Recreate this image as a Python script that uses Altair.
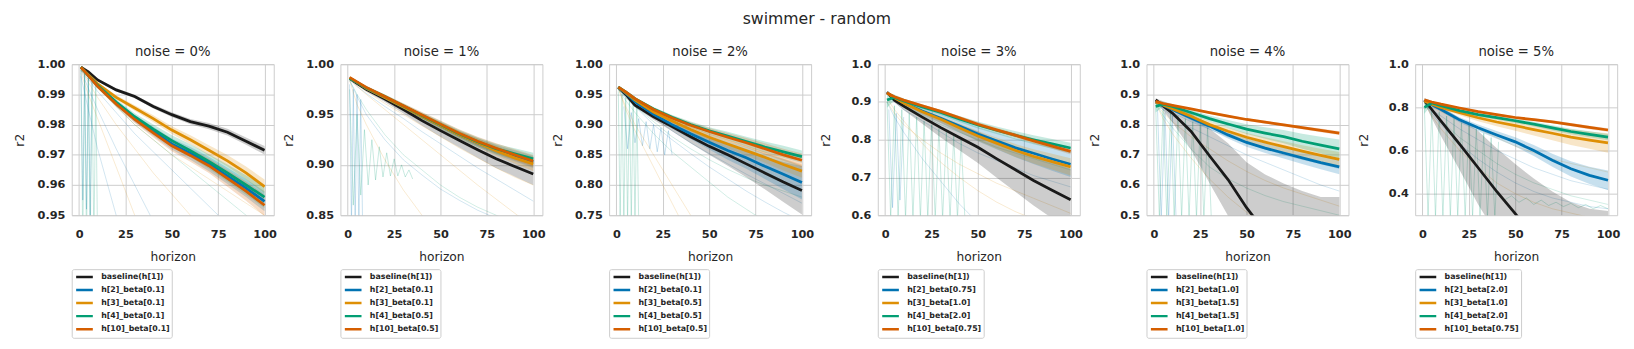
import altair as alt
import pandas as pd

# ---------------- data ----------------
H = [1, 5, 10, 20, 30, 40, 50, 60, 70, 80, 90, 100]
SERIES = ["base", "h2", "h3", "h4", "h10"]
COLORS = ["#1a1a1a", "#0173b2", "#de8f05", "#029e73", "#d55e00"]
NOISE = ["0%", "1%", "2%", "3%", "4%", "5%"]

labels_n0 = ["baseline(h[1])", "h[2]_beta[0.1]", "h[3]_beta[0.1]", "h[4]_beta[0.1]", "h[10]_beta[0.1]"]
labels_n1 = ["baseline(h[1])", "h[2]_beta[0.1]", "h[3]_beta[0.1]", "h[4]_beta[0.5]", "h[10]_beta[0.5]"]
labels_n2 = ["baseline(h[1])", "h[2]_beta[0.1]", "h[3]_beta[0.5]", "h[4]_beta[0.5]", "h[10]_beta[0.5]"]
labels_n3 = ["baseline(h[1])", "h[2]_beta[0.75]", "h[3]_beta[1.0]", "h[4]_beta[2.0]", "h[10]_beta[0.75]"]
labels_n4 = ["baseline(h[1])", "h[2]_beta[1.0]", "h[3]_beta[1.5]", "h[4]_beta[1.5]", "h[10]_beta[1.0]"]
labels_n5 = ["baseline(h[1])", "h[2]_beta[2.0]", "h[3]_beta[1.0]", "h[4]_beta[2.0]", "h[10]_beta[0.75]"]

mean_n0 = {
    "base": [0.999, 0.9975, 0.9948, 0.9915, 0.9893, 0.9860, 0.9833, 0.9810, 0.9795, 0.9775, 0.9745, 0.9715],
    "h2":   [0.999, 0.9962, 0.9928, 0.9870, 0.9820, 0.9778, 0.9736, 0.9705, 0.9670, 0.9630, 0.9590, 0.9546],
    "h3":   [0.999, 0.9965, 0.9935, 0.9890, 0.9855, 0.9820, 0.9782, 0.9750, 0.9715, 0.9680, 0.9640, 0.9595],
    "h4":   [0.999, 0.9963, 0.9930, 0.9875, 0.9826, 0.9785, 0.9747, 0.9714, 0.9678, 0.9640, 0.9600, 0.9560],
    "h10":  [0.999, 0.9962, 0.9927, 0.9868, 0.9817, 0.9773, 0.9730, 0.9698, 0.9664, 0.9622, 0.9580, 0.9533],
}
band_n0 = {
    "base": [0.0002, 0.0003, 0.0004, 0.0005, 0.0006, 0.0007, 0.0008, 0.0009, 0.0010, 0.0011, 0.0012, 0.0014],
    "h2":   [0.0002, 0.0004, 0.0006, 0.0009, 0.0012, 0.0015, 0.0018, 0.0021, 0.0024, 0.0027, 0.0030, 0.0033],
    "h3":   [0.0002, 0.0004, 0.0005, 0.0007, 0.0009, 0.0011, 0.0013, 0.0015, 0.0017, 0.0019, 0.0021, 0.0023],
    "h4":   [0.0002, 0.0004, 0.0006, 0.0009, 0.0012, 0.0015, 0.0018, 0.0021, 0.0024, 0.0028, 0.0032, 0.0036],
    "h10":  [0.0002, 0.0004, 0.0006, 0.0009, 0.0012, 0.0015, 0.0018, 0.0021, 0.0024, 0.0028, 0.0032, 0.0036],
}
mean_n1 = {
    "base": [0.986, 0.981, 0.975, 0.9655, 0.955, 0.944, 0.934, 0.9245, 0.915, 0.906, 0.8985, 0.891],
    "h2":   [0.986, 0.982, 0.976, 0.967, 0.9575, 0.948, 0.939, 0.930, 0.922, 0.915, 0.909, 0.903],
    "h3":   [0.986, 0.982, 0.976, 0.967, 0.9575, 0.948, 0.939, 0.930, 0.922, 0.914, 0.907, 0.901],
    "h4":   [0.986, 0.982, 0.9765, 0.968, 0.9585, 0.949, 0.940, 0.931, 0.923, 0.916, 0.911, 0.906],
    "h10":  [0.987, 0.9825, 0.977, 0.968, 0.9588, 0.9495, 0.9405, 0.9315, 0.9235, 0.9165, 0.910, 0.9038],
}
band_n1 = {
    "base": [0.001, 0.0015, 0.002, 0.003, 0.004, 0.005, 0.006, 0.007, 0.008, 0.009, 0.010, 0.011],
    "h2":   [0.001, 0.0012, 0.0015, 0.002, 0.0025, 0.003, 0.0035, 0.004, 0.0045, 0.005, 0.0055, 0.006],
    "h3":   [0.001, 0.0012, 0.0015, 0.002, 0.0025, 0.003, 0.0035, 0.004, 0.0045, 0.005, 0.0055, 0.007],
    "h4":   [0.001, 0.0012, 0.0015, 0.002, 0.0025, 0.003, 0.0035, 0.004, 0.0045, 0.005, 0.0055, 0.006],
    "h10":  [0.001, 0.0012, 0.0015, 0.002, 0.0025, 0.003, 0.0035, 0.004, 0.0045, 0.005, 0.0055, 0.006],
}
mean_n2 = {
    "base": [0.962, 0.950, 0.932, 0.913, 0.897, 0.880, 0.864, 0.850, 0.835, 0.820, 0.805, 0.791],
    "h2":   [0.962, 0.952, 0.938, 0.917, 0.900, 0.885, 0.871, 0.857, 0.845, 0.831, 0.818, 0.804],
    "h3":   [0.962, 0.953, 0.941, 0.921, 0.906, 0.892, 0.879, 0.868, 0.857, 0.846, 0.834, 0.823],
    "h4":   [0.962, 0.954, 0.943, 0.926, 0.912, 0.900, 0.8897, 0.881, 0.872, 0.863, 0.855, 0.847],
    "h10":  [0.962, 0.954, 0.943, 0.925, 0.911, 0.899, 0.8886, 0.879, 0.870, 0.860, 0.850, 0.841],
}
band_n2 = {
    "base": [0.001, 0.002, 0.003, 0.005, 0.008, 0.011, 0.014, 0.018, 0.022, 0.027, 0.033, 0.040],
    "h2":   [0.001, 0.002, 0.003, 0.005, 0.007, 0.009, 0.012, 0.015, 0.018, 0.021, 0.025, 0.028],
    "h3":   [0.001, 0.0015, 0.002, 0.003, 0.004, 0.005, 0.006, 0.007, 0.008, 0.009, 0.010, 0.011],
    "h4":   [0.001, 0.0015, 0.002, 0.003, 0.004, 0.005, 0.006, 0.007, 0.008, 0.009, 0.010, 0.010],
    "h10":  [0.001, 0.0015, 0.002, 0.003, 0.004, 0.005, 0.006, 0.007, 0.008, 0.009, 0.010, 0.011],
}
mean_n3 = {
    "base": [0.926, 0.905, 0.889, 0.860, 0.832, 0.806, 0.780, 0.750, 0.721, 0.692, 0.666, 0.641],
    "h2":   [0.924, 0.912, 0.898, 0.876, 0.857, 0.836, 0.815, 0.797, 0.779, 0.764, 0.749, 0.735],
    "h3":   [0.924, 0.911, 0.897, 0.874, 0.854, 0.832, 0.810, 0.791, 0.772, 0.756, 0.742, 0.728],
    "h4":   [0.905, 0.912, 0.903, 0.887, 0.872, 0.855, 0.839, 0.825, 0.812, 0.800, 0.789, 0.778],
    "h10":  [0.924, 0.914, 0.905, 0.890, 0.875, 0.858, 0.841, 0.826, 0.812, 0.797, 0.783, 0.769],
}
band_n3 = {
    "base": [0.003, 0.006, 0.010, 0.018, 0.026, 0.034, 0.042, 0.050, 0.058, 0.066, 0.074, 0.082],
    "h2":   [0.003, 0.005, 0.007, 0.010, 0.013, 0.016, 0.019, 0.022, 0.025, 0.028, 0.031, 0.034],
    "h3":   [0.003, 0.004, 0.005, 0.007, 0.009, 0.011, 0.013, 0.015, 0.017, 0.019, 0.021, 0.023],
    "h4":   [0.020, 0.008, 0.006, 0.006, 0.007, 0.008, 0.009, 0.010, 0.011, 0.012, 0.013, 0.014],
    "h10":  [0.003, 0.003, 0.003, 0.004, 0.004, 0.005, 0.005, 0.006, 0.006, 0.007, 0.007, 0.008],
}
mean_n4 = {
    "base": [0.882, 0.862, 0.838, 0.778, 0.697, 0.618, 0.525, 0.445, 0.375, 0.310, 0.250, 0.200],
    "h2":   [0.875, 0.864, 0.850, 0.822, 0.795, 0.766, 0.741, 0.722, 0.706, 0.690, 0.674, 0.660],
    "h3":   [0.875, 0.865, 0.853, 0.828, 0.800, 0.778, 0.758, 0.742, 0.727, 0.712, 0.698, 0.685],
    "h4":   [0.860, 0.868, 0.860, 0.840, 0.820, 0.802, 0.785, 0.772, 0.760, 0.745, 0.732, 0.720],
    "h10":  [0.877, 0.870, 0.864, 0.852, 0.840, 0.828, 0.817, 0.808, 0.799, 0.790, 0.781, 0.772],
}
band_n4 = {
    "base": [0.005, 0.015, 0.030, 0.060, 0.090, 0.120, 0.150, 0.190, 0.230, 0.270, 0.310, 0.360],
    "h2":   [0.004, 0.005, 0.006, 0.008, 0.010, 0.012, 0.014, 0.016, 0.018, 0.020, 0.022, 0.024],
    "h3":   [0.004, 0.005, 0.006, 0.008, 0.010, 0.012, 0.014, 0.016, 0.018, 0.020, 0.022, 0.024],
    "h4":   [0.020, 0.008, 0.007, 0.008, 0.010, 0.013, 0.016, 0.019, 0.022, 0.025, 0.028, 0.031],
    "h10":  [0.003, 0.003, 0.003, 0.003, 0.004, 0.004, 0.004, 0.005, 0.005, 0.005, 0.006, 0.006],
}
mean_n5 = {
    "base": [0.833, 0.790, 0.736, 0.630, 0.520, 0.410, 0.307, 0.200, 0.090, -0.020, -0.130, -0.240],
    "h2":   [0.830, 0.812, 0.790, 0.742, 0.705, 0.672, 0.640, 0.600, 0.555, 0.515, 0.485, 0.462],
    "h3":   [0.830, 0.815, 0.800, 0.775, 0.752, 0.732, 0.715, 0.697, 0.680, 0.662, 0.648, 0.635],
    "h4":   [0.800, 0.820, 0.808, 0.785, 0.766, 0.752, 0.738, 0.722, 0.705, 0.688, 0.675, 0.662],
    "h10":  [0.835, 0.825, 0.815, 0.797, 0.780, 0.766, 0.753, 0.743, 0.733, 0.720, 0.707, 0.695],
}
band_n5 = {
    "base": [0.010, 0.040, 0.070, 0.120, 0.170, 0.200, 0.230, 0.270, 0.320, 0.380, 0.460, 0.560],
    "h2":   [0.004, 0.006, 0.008, 0.012, 0.015, 0.018, 0.021, 0.025, 0.030, 0.035, 0.040, 0.045],
    "h3":   [0.004, 0.006, 0.008, 0.012, 0.016, 0.020, 0.024, 0.028, 0.032, 0.036, 0.040, 0.045],
    "h4":   [0.030, 0.008, 0.007, 0.007, 0.008, 0.009, 0.010, 0.011, 0.012, 0.013, 0.014, 0.015],
    "h10":  [0.003, 0.003, 0.004, 0.004, 0.005, 0.005, 0.006, 0.006, 0.007, 0.007, 0.008, 0.008],
}

# faint individual runs (values at H)
faint_n0 = [
    ("h2", [0.998, 0.992, 0.985, 0.972, 0.960, 0.948, 0.936, 0.924, 0.912, 0.900, 0.888, 0.876]),
    ("h3", [0.998, 0.994, 0.989, 0.980, 0.972, 0.964, 0.957, 0.950, 0.943, 0.936, 0.929, 0.922]),
    ("h2", [0.998, 0.995, 0.991, 0.984, 0.977, 0.971, 0.965, 0.959, 0.953, 0.947, 0.941, 0.935]),
    ("h3", [0.997, 0.990, 0.982, 0.966, 0.950, 0.935, 0.920, 0.905, 0.890, 0.875, 0.860, 0.845]),
    ("h4", [0.998, 0.996, 0.993, 0.986, 0.980, 0.975, 0.970, 0.965, 0.960, 0.955, 0.950, 0.945]),
    ("h2", [0.996, 0.985, 0.972, 0.950, 0.930, 0.910, 0.890, 0.870, 0.850, 0.830, 0.810, 0.790]),
    ("h3", [0.998, 0.995, 0.992, 0.986, 0.980, 0.975, 0.970, 0.966, 0.962, 0.958, 0.954, 0.950]),
]
faint_n1 = [
    ("h4", [0.984, 0.970, 0.955, 0.930, 0.910, 0.895, 0.880, 0.868, 0.858, 0.850, 0.842, 0.835]),
    ("h2", [0.984, 0.968, 0.950, 0.925, 0.905, 0.890, 0.876, 0.865, 0.855, 0.847, 0.840, 0.833]),
    ("h3", [0.984, 0.960, 0.940, 0.905, 0.875, 0.850, 0.830, 0.810, 0.790, 0.770, 0.750, 0.730]),
    ("h3", [0.985, 0.978, 0.970, 0.955, 0.940, 0.925, 0.910, 0.895, 0.880, 0.866, 0.852, 0.838]),
    ("h2", [0.985, 0.978, 0.971, 0.958, 0.946, 0.933, 0.921, 0.909, 0.897, 0.886, 0.875, 0.864]),
    ("h3", [0.985, 0.979, 0.973, 0.961, 0.950, 0.939, 0.928, 0.917, 0.907, 0.897, 0.888, 0.880]),
]
faint_n2 = [
    ("h3", [0.960, 0.930, 0.900, 0.850, 0.800, 0.750, 0.700, 0.650, 0.600, 0.550, 0.500, 0.450]),
    ("h3", [0.960, 0.925, 0.890, 0.830, 0.770, 0.710, 0.650, 0.590, 0.530, 0.470, 0.410, 0.350]),
    ("h4", [0.960, 0.945, 0.930, 0.905, 0.880, 0.860, 0.842, 0.826, 0.812, 0.800, 0.790, 0.780]),
    ("h4", [0.958, 0.940, 0.920, 0.885, 0.855, 0.830, 0.805, 0.780, 0.760, 0.740, 0.720, 0.700]),
    ("h2", [0.958, 0.945, 0.930, 0.900, 0.875, 0.852, 0.830, 0.810, 0.790, 0.772, 0.755, 0.740]),
    ("h2", [0.958, 0.948, 0.936, 0.912, 0.890, 0.870, 0.852, 0.835, 0.818, 0.802, 0.786, 0.770]),
]
faint_n3 = [
    ("h2", [0.900, 0.860, 0.820, 0.750, 0.690, 0.630, 0.580, 0.540, 0.500, 0.460, 0.420, 0.380]),
    ("h3", [0.900, 0.870, 0.840, 0.800, 0.765, 0.735, 0.710, 0.685, 0.665, 0.645, 0.625, 0.605]),
    ("h2", [0.920, 0.900, 0.880, 0.850, 0.820, 0.790, 0.765, 0.745, 0.725, 0.705, 0.690, 0.675]),
    ("h4", [0.920, 0.905, 0.890, 0.865, 0.840, 0.820, 0.800, 0.780, 0.765, 0.750, 0.735, 0.720]),
    ("h3", [0.910, 0.880, 0.850, 0.790, 0.740, 0.700, 0.665, 0.635, 0.610, 0.590, 0.570, 0.550]),
]
faint_n4 = [
    ("h2", [0.870, 0.850, 0.830, 0.790, 0.760, 0.730, 0.700, 0.675, 0.650, 0.625, 0.600, 0.580]),
    ("h3", [0.870, 0.840, 0.810, 0.760, 0.720, 0.680, 0.645, 0.615, 0.590, 0.570, 0.550, 0.530]),
    ("h4", [0.870, 0.830, 0.790, 0.720, 0.660, 0.620, 0.590, 0.565, 0.545, 0.530, 0.515, 0.500]),
    ("h2", [0.870, 0.855, 0.840, 0.810, 0.785, 0.760, 0.740, 0.720, 0.700, 0.685, 0.670, 0.655]),
    ("h3", [0.870, 0.820, 0.770, 0.690, 0.620, 0.560, 0.510, 0.470, 0.440, 0.410, 0.390, 0.370]),
]
faint_n5 = [
    ("h2", [0.820, 0.790, 0.760, 0.700, 0.650, 0.600, 0.560, 0.520, 0.490, 0.460, 0.440, 0.420]),
    ("h3", [0.820, 0.800, 0.780, 0.740, 0.700, 0.660, 0.620, 0.590, 0.560, 0.540, 0.520, 0.500]),
    ("h4", [0.820, 0.780, 0.740, 0.660, 0.600, 0.540, 0.490, 0.450, 0.420, 0.390, 0.370, 0.350]),
    ("h2", [0.820, 0.770, 0.720, 0.630, 0.560, 0.500, 0.450, 0.410, 0.380, 0.360, 0.340, 0.330]),
    ("h3", [0.820, 0.760, 0.700, 0.600, 0.520, 0.450, 0.400, 0.360, 0.330, 0.310, 0.290, 0.270]),
]

# oscillating (zig-zag) runs near the start
stripes_n0 = [
    ("h4", [1, 2, 3, 4, 5, 6, 7, 8, 9, 10], [0.998, 0.94, 0.997, 0.94, 0.996, 0.94, 0.995, 0.94, 0.994, 0.94]),
    ("h2", [1, 2, 3, 4, 5, 6, 7], [0.998, 0.955, 0.997, 0.952, 0.996, 0.950, 0.995]),
]
stripes_n1 = [
    ("h4", [1, 3, 5, 7, 9, 11, 13, 15, 17, 19, 21, 23, 25, 27, 29, 31, 33, 35],
           [0.975, 0.86, 0.95, 0.87, 0.935, 0.88, 0.925, 0.885, 0.918, 0.888, 0.912, 0.889, 0.906, 0.889, 0.90, 0.888, 0.895, 0.886]),
    ("h2", [1, 2, 3, 4, 5, 6, 7, 8], [0.98, 0.84, 0.975, 0.84, 0.97, 0.84, 0.965, 0.84]),
]
stripes_n2 = [
    ("h4", [1, 2, 3, 4, 5, 6, 7, 8, 9, 10, 11, 12],
           [0.955, 0.74, 0.95, 0.74, 0.945, 0.74, 0.94, 0.74, 0.935, 0.74, 0.93, 0.74]),
    ("h2", [4, 6, 8, 10, 12, 14, 16, 18, 20, 22, 24, 26, 28, 30],
           [0.93, 0.86, 0.92, 0.87, 0.91, 0.865, 0.905, 0.86, 0.90, 0.855, 0.895, 0.85, 0.89, 0.85]),
]
stripes_n3 = [
    ("h4", [1, 3, 5, 7, 9, 11, 13, 15, 17, 19, 21, 23, 25, 27, 29, 31, 33, 35, 37, 39, 41, 43],
           [0.90, 0.59, 0.89, 0.59, 0.88, 0.59, 0.87, 0.59, 0.86, 0.59, 0.85, 0.59, 0.84, 0.59, 0.83, 0.59, 0.82, 0.59, 0.81, 0.59, 0.80, 0.59]),
    ("h2", [2, 4, 6, 8, 10], [0.88, 0.62, 0.87, 0.64, 0.86]),
]
stripes_n4 = [
    ("h4", [1, 3, 5, 7, 9, 11, 13, 15, 17, 19, 21, 23, 25, 27, 29, 31],
           [0.86, 0.49, 0.85, 0.49, 0.84, 0.49, 0.83, 0.49, 0.82, 0.49, 0.81, 0.49, 0.80, 0.49, 0.79, 0.49]),
    ("h2", [2, 4, 6, 8, 10, 12], [0.85, 0.49, 0.84, 0.49, 0.83, 0.49]),
]
stripes_n5 = [
    ("h4", [1, 3, 5, 7, 9, 11, 13, 15, 17, 19, 21, 23, 25, 27, 29, 31, 33, 35, 37, 39, 41],
           [0.80, 0.29, 0.79, 0.29, 0.78, 0.29, 0.76, 0.29, 0.75, 0.29, 0.73, 0.29, 0.72, 0.29, 0.70, 0.29, 0.68, 0.29, 0.66, 0.29, 0.64]),
    ("h4", [40, 44, 48, 52, 56, 60, 64, 68, 72, 76, 80, 84, 88, 92, 96, 100],
           [0.40, 0.37, 0.39, 0.36, 0.38, 0.35, 0.37, 0.345, 0.36, 0.34, 0.355, 0.335, 0.35, 0.33, 0.345, 0.33]),
]

y_domains = [[0.95, 1.0], [0.85, 1.0], [0.75, 1.0], [0.6, 1.0], [0.5, 1.0], [0.3, 1.0]]
y_ticks = [
    [0.95, 0.96, 0.97, 0.98, 0.99, 1.00],
    [0.85, 0.90, 0.95, 1.00],
    [0.75, 0.80, 0.85, 0.90, 0.95, 1.00],
    [0.6, 0.7, 0.8, 0.9, 1.0],
    [0.5, 0.6, 0.7, 0.8, 0.9, 1.0],
    [0.4, 0.6, 0.8, 1.0],
]
y_formats = [".2f", ".2f", ".2f", ".1f", ".1f", ".1f"]
x_ticks = [0, 25, 50, 75, 100]

ALL_LABELS = [labels_n0, labels_n1, labels_n2, labels_n3, labels_n4, labels_n5]
ALL_MEANS = [mean_n0, mean_n1, mean_n2, mean_n3, mean_n4, mean_n5]
ALL_BANDS = [band_n0, band_n1, band_n2, band_n3, band_n4, band_n5]
ALL_FAINT = [faint_n0, faint_n1, faint_n2, faint_n3, faint_n4, faint_n5]
ALL_STRIPES = [stripes_n0, stripes_n1, stripes_n2, stripes_n3, stripes_n4, stripes_n5]

# ---------------- chart ----------------
PW, PH = 206, 154
KEYCOL = dict(zip(SERIES, COLORS))
xscale = alt.Scale(domain=[-3.95, 104.95], nice=False, zero=False)


def make_panel(i):
    labels = ALL_LABELS[i]
    means = ALL_MEANS[i]
    bands = ALL_BANDS[i]
    rows = []
    for key, lab in zip(SERIES, labels):
        for h, m, b in zip(H, means[key], bands[key]):
            rows.append(dict(key=key, horizon=h, series=lab, mean=m, lo=m - b, hi=m + b))
    df = pd.DataFrame(rows)

    yscale = alt.Scale(domain=y_domains[i], nice=False, zero=False)
    xenc = alt.X("horizon:Q", scale=xscale, title="horizon",
                 axis=alt.Axis(values=x_ticks, format="d"))
    yaxis = alt.Axis(values=y_ticks[i], format=y_formats[i], title="r2")

    layers = []
    # oscillating runs
    srows = []
    for j, (key, xs, ys) in enumerate(ALL_STRIPES[i]):
        for x, y in zip(xs, ys):
            srows.append(dict(run=j, key=key, horizon=x, val=y))
    sdf = pd.DataFrame(srows)
    for key in SERIES:
        sub = sdf[sdf.key == key]
        if len(sub):
            layers.append(
                alt.Chart(sub).mark_line(clip=True, strokeWidth=1, opacity=0.22, color=KEYCOL[key])
                .encode(x=xenc, y=alt.Y("val:Q", scale=yscale, axis=yaxis), detail="run:N")
            )
    # faint runs
    frows = []
    for j, (key, vals) in enumerate(ALL_FAINT[i]):
        for h, v in zip(H, vals):
            frows.append(dict(run=j, key=key, horizon=h, val=v))
    fdf = pd.DataFrame(frows)
    for key in SERIES:
        sub = fdf[fdf.key == key]
        if len(sub):
            layers.append(
                alt.Chart(sub).mark_line(clip=True, strokeWidth=1, opacity=0.18, color=KEYCOL[key])
                .encode(x=xenc, y=alt.Y("val:Q", scale=yscale, axis=yaxis), detail="run:N")
            )
    # confidence bands (one layer per series, constant fill -> no extra scale/legend)
    for key in SERIES:
        layers.append(
            alt.Chart(df[df.key == key]).mark_area(clip=True, opacity=0.22, color=KEYCOL[key])
            .encode(x=xenc, y=alt.Y("lo:Q", scale=yscale, axis=yaxis), y2="hi:Q")
        )
    # mean lines with legend
    layers.append(
        alt.Chart(df).mark_line(clip=True, strokeWidth=2.8)
        .encode(
            x=xenc,
            y=alt.Y("mean:Q", scale=yscale, axis=yaxis),
            color=alt.Color(
                "series:N",
                scale=alt.Scale(domain=labels, range=COLORS),
                legend=alt.Legend(orient="none", legendX=0, legendY=209, direction="vertical", title=None),
            ),
        )
    )
    return alt.layer(*layers).properties(
        width=PW, height=PH,
        title=alt.TitleParams(f"noise = {NOISE[i]}", fontSize=13.5, fontWeight="normal", offset=0),
    )


chart = (
    alt.hconcat(*[make_panel(i) for i in range(6)], spacing=4)
    .resolve_scale(color="independent", y="independent")
    .properties(
        title=alt.TitleParams("swimmer - random", anchor="middle", fontSize=16, fontWeight="normal", offset=18),
        padding={"left": 5, "top": 0, "right": 5, "bottom": 2},
    )
    .configure_view(stroke="#cccccc", strokeWidth=1)
    .configure_title(font="DejaVu Sans", color="#262626")
    .configure_axis(
        grid=True, gridColor="#cccccc", gridWidth=1, domain=False, ticks=False,
        labelFont="DejaVu Sans", labelFontWeight="bold", labelFontSize=11.5, labelColor="#262626",
        titleFont="DejaVu Sans", titleFontWeight="normal", titleFontSize=12.5, titleColor="#262626",
    )
    .configure_axisY(labelPadding=7, minExtent=40, maxExtent=40, titlePadding=6)
    .configure_axisX(labelPadding=14, titlePadding=11)
    .configure_legend(
        labelFont="DejaVu Sans", labelFontWeight="bold", labelFontSize=8, labelColor="#262626",
        symbolType="stroke", symbolStrokeWidth=2.5, symbolSize=289, symbolOffset=1.5,
        labelOffset=7, padding=1.5, rowPadding=0.3, clipHeight=13,
        strokeColor="#cccccc", fillColor="white", cornerRadius=2,
    )
)

chart.save("out.html", embed_options={"renderer": "svg", "actions": False})
